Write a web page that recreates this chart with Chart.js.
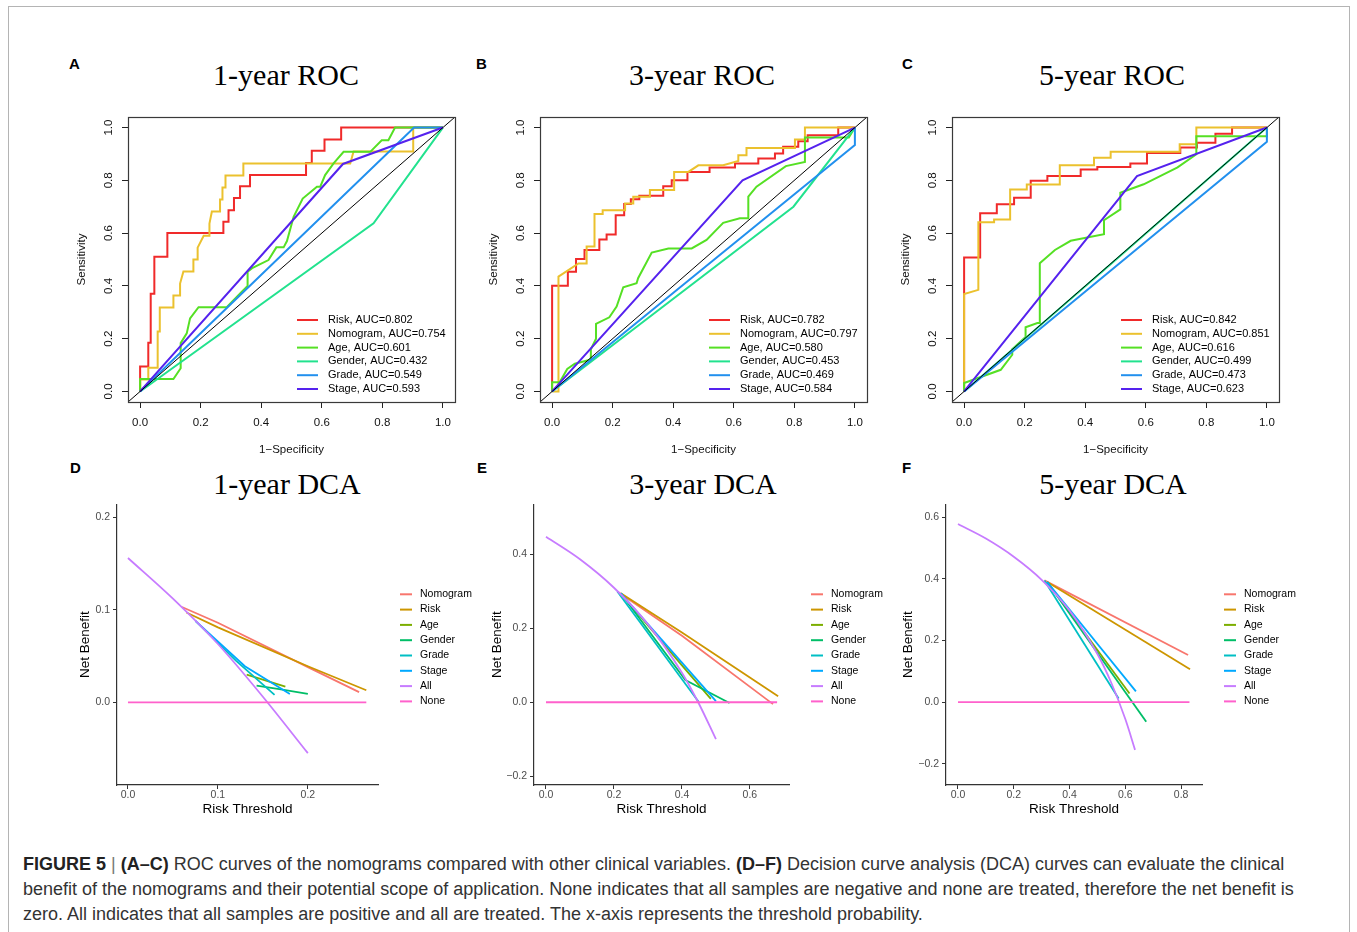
<!DOCTYPE html>
<html>
<head>
<meta charset="utf-8">
<title>Figure 5</title>
<script src="https://cdn.jsdelivr.net/npm/chart.js@4.4.1/dist/chart.umd.min.js"></script>
<style>
  body { margin: 0; width: 1357px; height: 932px; overflow: hidden; position: relative; background: #fff;
         font-family: 'Liberation Sans', Arial, sans-serif; }
  #frame { position: absolute; left: 8px; top: 6px; width: 1340px; height: 1000px; border: 1px solid #b4b4b4; }
  canvas { position: absolute; }
  .tag { position: absolute; font: bold 15px/15px 'Liberation Sans', Arial, sans-serif; color: #000; }
  .ttl { position: absolute; width: 300px; text-align: center; color: #000;
         font: 30px/30px 'Liberation Serif', 'Times New Roman', serif; }
  #caption { position: absolute; left: 23px; top: 852px; font-size: 18px; line-height: 25px; color: #333; white-space: nowrap; }
  #caption b { color: #222; }
  #caption .bar { color: #777; }
</style>
</head>
<body>
<div id="frame"></div>

<div class="tag" style="left:69px;top:56px">A</div>
<div class="tag" style="left:476px;top:56px">B</div>
<div class="tag" style="left:902px;top:56px">C</div>
<div class="tag" style="left:70px;top:460px">D</div>
<div class="tag" style="left:477px;top:460px">E</div>
<div class="tag" style="left:902px;top:460px">F</div>

<div class="ttl" style="left:136px;top:60px">1-year ROC</div>
<div class="ttl" style="left:552px;top:60px">3-year ROC</div>
<div class="ttl" style="left:962px;top:60px">5-year ROC</div>
<div class="ttl" style="left:137px;top:469px">1-year DCA</div>
<div class="ttl" style="left:553px;top:469px">3-year DCA</div>
<div class="ttl" style="left:963px;top:469px">5-year DCA</div>

<canvas id="roc1" width="410" height="360" style="left:60px;top:100px"></canvas>
<canvas id="roc3" width="410" height="360" style="left:472px;top:100px"></canvas>
<canvas id="roc5" width="410" height="360" style="left:884px;top:100px"></canvas>
<canvas id="dca1" width="420" height="330" style="left:60px;top:495px"></canvas>
<canvas id="dca3" width="420" height="330" style="left:477px;top:495px"></canvas>
<canvas id="dca5" width="420" height="330" style="left:889px;top:495px"></canvas>

<div id="caption"><b>FIGURE 5</b> <span class="bar">|</span> <b>(A–C)</b> ROC curves of the nomograms compared with other clinical variables. <b>(D–F)</b> Decision curve analysis (DCA) curves can evaluate the clinical<br>benefit of the nomograms and their potential scope of application. None indicates that all samples are negative and none are treated, therefore the net benefit is<br>zero. All indicates that all samples are positive and all are treated. The x-axis represents the threshold probability.</div>

<script>
Chart.defaults.font.family = "'Liberation Sans', Arial, sans-serif";

// ---------- ROC data: [1-specificity, sensitivity] ----------
const rocNames = ['Risk', 'Nomogram', 'Age', 'Gender', 'Grade', 'Stage'];
const rocColors = ['#f02a2a', '#ebc12e', '#55e024', '#22e28e', '#2290ee', '#5522ee'];
const auc1 = ['0.802', '0.754', '0.601', '0.432', '0.549', '0.593'];
const auc3 = ['0.782', '0.797', '0.580', '0.453', '0.469', '0.584'];
const auc5 = ['0.842', '0.851', '0.616', '0.499', '0.473', '0.623'];
const rocTicks = [0, 0.2, 0.4, 0.6, 0.8, 1.0];
const chanceLine = [[-0.04, -0.04], [1.04, 1.04]];

// 1-year
const risk1 = [[0,0],[0,0.095],[0.027,0.095],[0.027,0.185],[0.035,0.185],[0.035,0.37],[0.047,0.37],[0.047,0.51],
  [0.09,0.51],[0.09,0.6],[0.275,0.6],[0.275,0.643],[0.292,0.643],[0.292,0.687],[0.31,0.687],[0.31,0.733],
  [0.33,0.733],[0.33,0.778],[0.363,0.778],[0.363,0.82],[0.548,0.82],[0.548,0.866],[0.567,0.866],[0.567,0.912],
  [0.609,0.912],[0.609,0.955],[0.664,0.955],[0.664,1],[1,1]];
const nomo1 = [[0,0],[0,0.045],[0.027,0.045],[0.027,0.09],[0.058,0.09],[0.058,0.227],[0.065,0.227],[0.065,0.318],
  [0.11,0.318],[0.11,0.364],[0.132,0.364],[0.132,0.409],[0.143,0.455],[0.176,0.455],[0.176,0.5],[0.19,0.5],
  [0.19,0.545],[0.21,0.59],[0.229,0.59],[0.229,0.636],[0.237,0.682],[0.264,0.682],[0.264,0.727],[0.272,0.727],
  [0.272,0.773],[0.282,0.773],[0.282,0.818],[0.341,0.818],[0.341,0.864],[0.694,0.864],[0.705,0.909],
  [0.902,0.909],[0.902,1],[1,1]];
const age1 = [[0,0],[0,0.047],[0.11,0.047],[0.134,0.088],[0.134,0.183],[0.154,0.22],[0.165,0.277],[0.193,0.319],
  [0.286,0.319],[0.336,0.378],[0.355,0.4],[0.355,0.454],[0.37,0.467],[0.424,0.498],[0.45,0.546],[0.474,0.546],
  [0.485,0.57],[0.507,0.662],[0.537,0.731],[0.584,0.776],[0.595,0.776],[0.611,0.82],[0.639,0.864],[0.672,0.908],
  [0.76,0.908],[0.798,0.952],[0.82,0.952],[0.842,1],[1,1]];
const gender1 = [[0,0],[0.771,0.637],[1,1]];
const grade1 = [[0,0],[0.905,1],[1,1]];
const stage1 = [[0,0],[0.67,0.862],[1,1]];

// 3-year
const risk3 = [[0,0],[0,0.401],[0.052,0.401],[0.052,0.454],[0.079,0.454],[0.079,0.502],[0.107,0.502],[0.107,0.536],
  [0.156,0.536],[0.156,0.576],[0.18,0.576],[0.18,0.595],[0.21,0.595],[0.21,0.668],[0.238,0.668],[0.238,0.71],
  [0.26,0.71],[0.26,0.728],[0.288,0.728],[0.288,0.742],[0.367,0.742],[0.367,0.778],[0.395,0.778],[0.395,0.8],
  [0.447,0.8],[0.447,0.832],[0.52,0.832],[0.52,0.849],[0.604,0.849],[0.604,0.864],[0.681,0.864],[0.681,0.883],
  [0.736,0.883],[0.736,0.902],[0.763,0.902],[0.763,0.927],[0.813,0.927],[0.813,0.948],[0.844,0.948],
  [0.844,0.971],[0.945,0.971],[0.945,1],[1,1]];
const nomo3 = [[0,0],[0.021,0],[0.021,0.435],[0.087,0.485],[0.114,0.485],[0.114,0.549],[0.14,0.549],[0.14,0.672],
  [0.167,0.672],[0.167,0.687],[0.241,0.687],[0.241,0.712],[0.268,0.712],[0.268,0.738],[0.323,0.738],[0.323,0.763],
  [0.403,0.763],[0.403,0.832],[0.45,0.832],[0.483,0.857],[0.565,0.857],[0.615,0.873],[0.615,0.895],[0.642,0.895],
  [0.642,0.923],[0.802,0.923],[0.802,0.955],[0.835,0.955],[0.835,1],[1,1]];
const age3 = [[0,0],[0,0.035],[0.025,0.035],[0.05,0.085],[0.075,0.105],[0.125,0.12],[0.128,0.12],[0.128,0.16],
  [0.145,0.2],[0.145,0.256],[0.189,0.281],[0.213,0.322],[0.235,0.395],[0.279,0.41],[0.284,0.429],[0.329,0.526],
  [0.384,0.542],[0.461,0.542],[0.51,0.574],[0.565,0.639],[0.62,0.656],[0.648,0.656],[0.648,0.738],[0.675,0.776],
  [0.772,0.854],[0.835,0.87],[0.835,0.962],[0.98,0.962],[1,1]];
const gender3 = [[0,0],[0.797,0.7],[1,1]];
const grade3 = [[0,0],[1,0.934],[1,1]];
const stage3 = [[0,0],[0.629,0.8],[1,1]];

// 5-year
const risk5 = [[0,0],[0,0.508],[0.053,0.508],[0.053,0.675],[0.108,0.675],[0.108,0.709],[0.165,0.709],[0.165,0.734],
  [0.22,0.734],[0.22,0.798],[0.275,0.798],[0.275,0.816],[0.385,0.816],[0.385,0.841],[0.44,0.841],[0.44,0.851],
  [0.549,0.851],[0.549,0.864],[0.604,0.864],[0.604,0.904],[0.714,0.904],[0.714,0.924],[0.769,0.924],[0.769,0.942],
  [0.83,0.942],[0.83,0.977],[0.885,0.977],[0.885,1],[1,1]];
const nomo5 = [[0,0],[0,0.369],[0.047,0.385],[0.047,0.641],[0.099,0.641],[0.099,0.652],[0.152,0.652],[0.152,0.765],
  [0.207,0.765],[0.207,0.784],[0.316,0.784],[0.316,0.857],[0.429,0.857],[0.429,0.886],[0.484,0.886],[0.484,0.908],
  [0.712,0.908],[0.712,0.937],[0.767,0.937],[0.767,1],[1,1]];
const age5 = [[0,0],[0,0.032],[0.121,0.082],[0.159,0.139],[0.159,0.16],[0.203,0.206],[0.203,0.243],[0.242,0.259],
  [0.25,0.259],[0.25,0.486],[0.3,0.536],[0.352,0.571],[0.462,0.596],[0.462,0.649],[0.516,0.69],[0.516,0.753],
  [0.593,0.785],[0.705,0.849],[0.767,0.899],[0.767,0.967],[1,0.967],[1,1]];
const gender5 = [[0,0],[0.5,0.498],[1,1]];
const grade5 = [[0,0],[1,0.946],[1,1]];
const stage5 = [[0,0],[0.571,0.816],[1,1]];

// ---------- DCA data: [risk threshold, net benefit] ----------
const dcaNames = ['Nomogram', 'Risk', 'Age', 'Gender', 'Grade', 'Stage', 'All', 'None'];
const dcaColors = ['#F8766D', '#CD9600', '#7CAE00', '#00BE67', '#00BFC4', '#00A9FF', '#C77CFF', '#FF61CC'];

const nomoNb1 = [[0.06,0.103],[0.1,0.086],[0.2,0.038],[0.257,0.011]];
const riskNb1 = [[0.065,0.097],[0.1,0.081],[0.2,0.039],[0.265,0.013]];
const ageNb1 = [[0.132,0.03],[0.175,0.017]];
const genderNb1 = [[0.143,0.018],[0.17,0.014],[0.2,0.009]];
const gradeNb1 = [[0.075,0.088],[0.12,0.045],[0.163,0.008]];
const stageNb1 = [[0.075,0.088],[0.13,0.039],[0.18,0.009]];
const allNb1 = [[0,0.156],[0.05,0.112],[0.1,0.063],[0.15,0.006],[0.2,-0.055]];
const noneNb1 = [[0,0],[0.265,0]];

const nomoNb3 = [[0.21,0.3],[0.4,0.18],[0.668,-0.005]];
const riskNb3 = [[0.22,0.295],[0.4,0.189],[0.683,0.016]];
const ageNb3 = [[0.22,0.295],[0.4,0.1],[0.485,0.009]];
const genderNb3 = [[0.22,0.295],[0.41,0.06],[0.54,-0.002]];
const gradeNb3 = [[0.21,0.3],[0.45,0.0]];
const stageNb3 = [[0.22,0.295],[0.5,0.003]];
const allNb3 = [[0,0.448],[0.1,0.387],[0.2,0.31],[0.3,0.211],[0.4,0.08],[0.45,-0.004],[0.5,-0.1]];
const noneNb3 = [[0,0],[0.68,0]];

const nomoNb5 = [[0.31,0.395],[0.825,0.153]];
const riskNb5 = [[0.32,0.39],[0.832,0.107]];
const ageNb5 = [[0.32,0.39],[0.615,0.028]];
const genderNb5 = [[0.32,0.39],[0.675,-0.064]];
const gradeNb5 = [[0.31,0.395],[0.576,0.012]];
const stageNb5 = [[0.32,0.39],[0.638,0.035]];
const allNb5 = [[0,0.578],[0.1,0.531],[0.2,0.472],[0.3,0.397],[0.4,0.297],[0.5,0.156],[0.55,0.062],[0.6,-0.055],[0.635,-0.155]];
const noneNb5 = [[0,0],[0.83,0]];

const dcaTicks1 = { x: [0, 0.1, 0.2], y: [0, 0.1, 0.2] };
const dcaTicks3 = { x: [0, 0.2, 0.4, 0.6], y: [-0.2, 0, 0.2, 0.4] };
const dcaTicks5 = { x: [0, 0.2, 0.4, 0.6, 0.8], y: [-0.2, 0, 0.2, 0.4, 0.6] };

// ---------- helpers ----------
const toXY = pts => pts.map(p => ({ x: p[0], y: p[1] }));
const fmt = v => Number(v).toFixed(1).replace('-', '\u2212');

// line-sample key drawn next to the plot area
const keyPlugin = {
  id: 'keyBox',
  afterDraw(chart, args, o) {
    const { ctx, chartArea } = chart;
    const x0 = chartArea.right + o.dx;
    let y = (o.fromBottom ? chartArea.bottom : chartArea.top) + o.y0;
    ctx.save();
    ctx.font = o.size + "px 'Liberation Sans', Arial, sans-serif";
    ctx.textBaseline = 'middle';
    ctx.fillStyle = '#000';
    chart.data.datasets.forEach(ds => {
      if (ds.noKey) return;
      ctx.strokeStyle = ds.borderColor;
      ctx.lineWidth = o.lw;
      ctx.beginPath();
      ctx.moveTo(x0, y);
      ctx.lineTo(x0 + o.len, y);
      ctx.stroke();
      ctx.fillText(ds.label, chartArea.right + o.tx, y);
      y += o.dy;
    });
    ctx.restore();
  }
};

// full box round the ROC plot region
const framePlugin = {
  id: 'frameBox',
  afterDatasetsDraw(chart) {
    const { ctx, chartArea: a } = chart;
    ctx.save();
    ctx.strokeStyle = '#3a3a3a';
    ctx.lineWidth = 1.2;
    ctx.strokeRect(Math.round(a.left) + 0.5, Math.round(a.top) + 0.5, Math.round(a.right - a.left), Math.round(a.bottom - a.top));
    ctx.restore();
  }
};

function rocChart(id, curves, aucs) {
  const sets = curves.map((pts, i) => ({
    label: rocNames[i] + ', AUC=' + aucs[i],
    data: toXY(pts),
    borderColor: rocColors[i],
    borderWidth: 2,
    order: 10 - i
  }));
  sets.push({ label: 'chance', data: toXY(chanceLine), borderColor: '#000', borderWidth: 1, order: 0, noKey: true });

  const axisFont = { size: 11.5 };
  return new Chart(document.getElementById(id), {
    type: 'line',
    data: { datasets: sets },
    options: {
      responsive: false,
      animation: false,
      layout: { padding: { top: 17, right: 15, left: 0, bottom: 0 } },
      elements: { point: { radius: 0 }, line: { tension: 0 } },
      plugins: {
        legend: { display: false },
        tooltip: { enabled: false },
        keyBox: { dx: -158, len: 21, tx: -127, y0: -82, fromBottom: true, dy: 13.8, size: 11, lw: 2 }
      },
      scales: {
        x: {
          type: 'linear', min: -0.04, max: 1.04,
          afterBuildTicks: ax => { ax.ticks = rocTicks.map(v => ({ value: v })); },
          afterFit: ax => { ax.height = 58; },
          grid: { drawOnChartArea: false, tickLength: 6, tickColor: '#222', tickWidth: 1 },
          border: { display: false },
          ticks: { autoSkip: false, maxRotation: 0, padding: 8, color: '#111', font: axisFont, callback: fmt },
          title: { display: true, text: '1\u2212Specificity', color: '#111', font: axisFont, padding: { top: 0, bottom: 3 } }
        },
        y: {
          type: 'linear', min: -0.04, max: 1.04,
          afterBuildTicks: ax => { ax.ticks = rocTicks.map(v => ({ value: v })); },
          afterFit: ax => { ax.width = 68; },
          grid: { drawOnChartArea: false, tickLength: 6, tickColor: '#222', tickWidth: 1 },
          border: { display: false },
          ticks: { autoSkip: false, minRotation: 90, maxRotation: 90, crossAlign: 'center', padding: 5,
                   color: '#111', font: axisFont, callback: fmt },
          title: { display: true, text: 'Sensitivity', color: '#111', font: axisFont, padding: { top: 15, bottom: 0 } }
        }
      }
    },
    plugins: [keyPlugin, framePlugin]
  });
}

function dcaChart(id, curves, xRange, yRange, ticks, yTitlePad, padRight) {
  const sets = curves.map((pts, i) => ({
    label: dcaNames[i],
    data: toXY(pts),
    borderColor: dcaColors[i],
    borderWidth: 1.8,
    cubicInterpolationMode: dcaNames[i] === 'All' ? 'monotone' : 'default',
    order: curves.length - i
  }));
  const tickFont = { size: 10.5 };
  const titleFont = { size: 13.5 };
  return new Chart(document.getElementById(id), {
    type: 'line',
    data: { datasets: sets },
    options: {
      responsive: false,
      animation: false,
      layout: { padding: { top: 5, right: padRight, left: 0, bottom: 0 } },
      elements: { point: { radius: 0 }, line: { tension: 0 } },
      plugins: {
        legend: { display: false },
        tooltip: { enabled: false },
        keyBox: { dx: 22, len: 12, tx: 42, y0: 90, fromBottom: false, dy: 15.3, size: 10.5, lw: 2 }
      },
      scales: {
        x: {
          type: 'linear', min: xRange[0], max: xRange[1],
          afterBuildTicks: ax => { ax.ticks = ticks.x.map(v => ({ value: v })); },
          afterFit: ax => { ax.height = 40; },
          grid: { drawOnChartArea: false, tickLength: 4, tickColor: '#333', tickWidth: 1 },
          border: { display: true, color: '#333', width: 1.2 },
          ticks: { autoSkip: false, maxRotation: 0, padding: 0, color: '#4d4d4d', font: tickFont, callback: fmt },
          title: { display: true, text: 'Risk Threshold', color: '#000', font: titleFont, padding: { top: 0, bottom: 8 } }
        },
        y: {
          type: 'linear', min: yRange[0], max: yRange[1],
          afterBuildTicks: ax => { ax.ticks = ticks.y.map(v => ({ value: v })); },
          afterFit: ax => { ax.width = 57; },
          grid: { drawOnChartArea: false, tickLength: 4, tickColor: '#333', tickWidth: 1 },
          border: { display: true, color: '#333', width: 1.2 },
          ticks: { autoSkip: false, padding: 3, color: '#4d4d4d', font: tickFont, callback: fmt },
          title: { display: true, text: 'Net Benefit', color: '#000', font: titleFont, padding: { top: yTitlePad, bottom: 0 } }
        }
      }
    },
    plugins: [keyPlugin]
  });
}

rocChart('roc1', [risk1, nomo1, age1, gender1, grade1, stage1], auc1);
rocChart('roc3', [risk3, nomo3, age3, gender3, grade3, stage3], auc3);
rocChart('roc5', [risk5, nomo5, age5, gender5, grade5, stage5], auc5);

dcaChart('dca1', [nomoNb1, riskNb1, ageNb1, genderNb1, gradeNb1, stageNb1, allNb1, noneNb1],
  [-0.0122, 0.278], [-0.0894, 0.214], dcaTicks1, 17, 102);
dcaChart('dca3', [nomoNb3, riskNb3, ageNb3, genderNb3, gradeNb3, stageNb3, allNb3, noneNb3],
  [-0.0353, 0.715], [-0.224, 0.536], dcaTicks3, 12, 108);
dcaChart('dca5', [nomoNb5, riskNb5, ageNb5, genderNb5, gradeNb5, stageNb5, allNb5, noneNb5],
  [-0.043, 0.875], [-0.269, 0.642], dcaTicks5, 11, 107);
</script>
</body>
</html>
